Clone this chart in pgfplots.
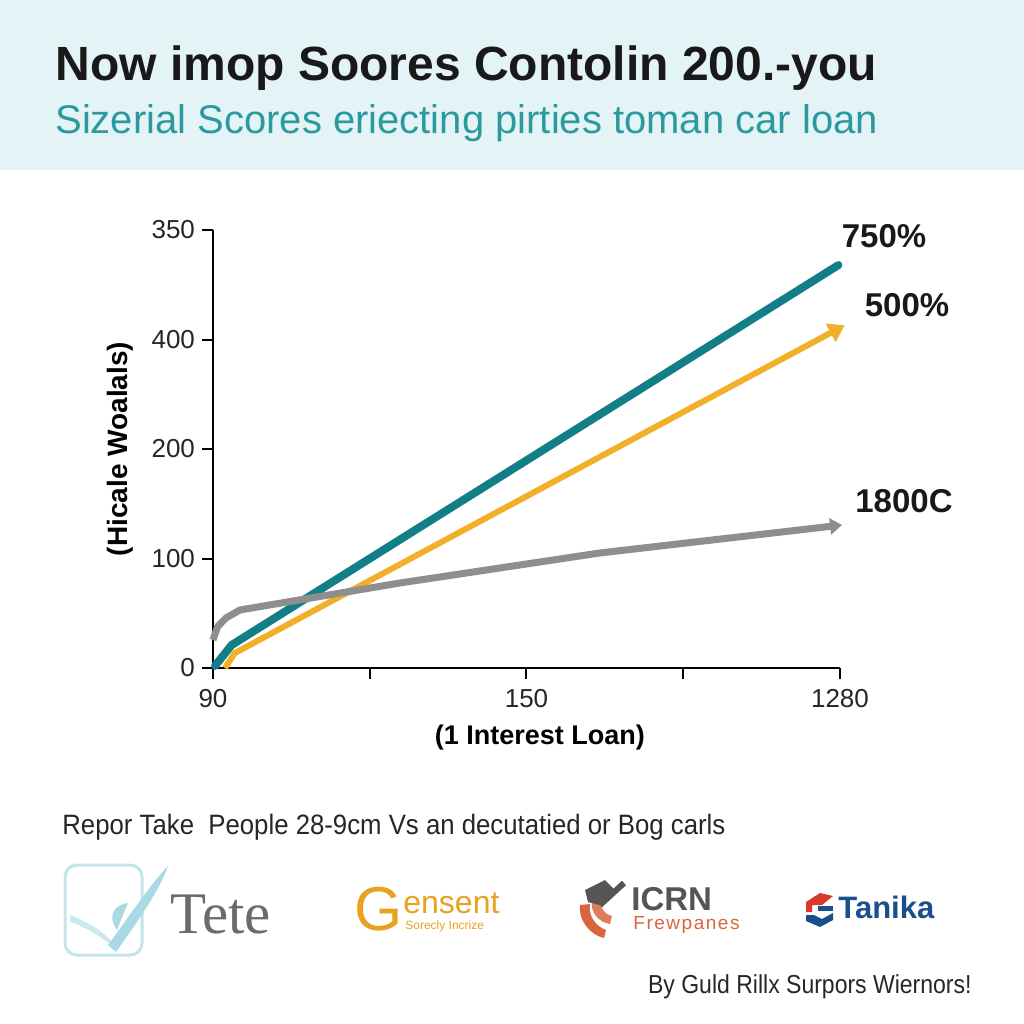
\documentclass[border=0pt]{standalone}
\usepackage{pgfplots}
\pgfplotsset{compat=1.18}
\usepackage{fontspec}
\setmainfont{Liberation Sans}
\newfontfamily\seriffont{Liberation Serif}
\usetikzlibrary{arrows.meta}
\definecolor{hdr}{HTML}{E4F3F6}
\definecolor{tealc}{HTML}{127E87}
\definecolor{orangec}{HTML}{F2B02A}
\definecolor{grayc}{HTML}{8E8E8E}
\definecolor{subteal}{HTML}{2A9A9E}
\definecolor{logoblue}{HTML}{A9D9E3}
\definecolor{logoline}{HTML}{C4E4EA}
\definecolor{gens}{HTML}{E9A21F}
\definecolor{icrn}{HTML}{555555}
\definecolor{frew}{HTML}{D9653F}
\definecolor{tanika}{HTML}{1B4F8A}
\definecolor{tanred}{HTML}{D93A2B}
\begin{document}
\begin{tikzpicture}
\begin{scope}[x=0.5pt,y=-0.5pt]
\path[use as bounding box, fill=white] (0,0) rectangle (1024,1024);
\fill[hdr] (0,0) rectangle (1024,170);
\node[anchor=base west, inner sep=0, font=\fontsize{24}{28}\selectfont\bfseries, text=black!90] at (55,80) {Now imop Soores Contolin 200.-you};
\node[anchor=base west, inner sep=0, font=\fontsize{20}{24}\selectfont, text=subteal] at (55,133) {Sizerial Scores eriecting pirties toman car loan};
% end labels
\node[font=\bfseries\fontsize{16.5}{18}\selectfont, text=black!90] at (884,236) {750\%};
\node[font=\bfseries\fontsize{16.5}{18}\selectfont, text=black!90] at (907,305) {500\%};
\node[font=\bfseries\fontsize{16.5}{18}\selectfont, text=black!90] at (904,501) {1800C};
% footer
\node[anchor=base west, inner sep=0, font=\fontsize{14}{16}\selectfont, text=black!85] at (62,834) {\addfontfeatures{FakeStretch=0.92}Repor Take\ \ People 28-9cm Vs an decutatied or Bog carls};
\node[anchor=base east, inner sep=0, font=\fontsize{13}{15}\selectfont, text=black!85] at (972,993) {\addfontfeatures{FakeStretch=0.885}By Guld Rillx Surpors Wiernors!};
% Tete logo
\draw[logoline, line width=1.5pt, rounded corners=6pt, fill=white] (65,865) rectangle (142,955);
\fill[logoblue!60] (70,922) .. controls (95,930) and (110,945) .. (118,950) .. controls (112,938) and (95,925) .. (70,915) -- cycle;
\fill[logoblue] (108,945) .. controls (130,915) and (150,885) .. (168,866) .. controls (160,890) and (135,925) .. (116,952) -- cycle;
\fill[logoblue] (117,930) .. controls (108,918) and (112,905) .. (128,903) .. controls (124,912) and (121,920) .. (117,930) -- cycle;
\node[anchor=base west, inner sep=0, font=\seriffont\fontsize{29.5}{32}\selectfont, text=black!58] at (170,933) {Tete};
% Gensent
\node[anchor=base west, inner sep=0, text depth=0pt, font=\fontsize{31}{33}\selectfont, text=gens] at (354,930) {G};
\node[anchor=base west, inner sep=0, font=\fontsize{16}{18}\selectfont, text=gens] at (403,913) {ensent};
\node[anchor=base west, inner sep=0, font=\fontsize{6}{7}\selectfont, text=gens] at (405,929) {Sorecly Incrize};
% ICRN
\fill[frew] (580,905) .. controls (578,920) and (590,935) .. (604,938) -- (606,930) .. controls (595,926) and (588,915) .. (590,904) -- cycle;
\fill[frew!85] (592,900) .. controls (590,912) and (598,922) .. (610,924) -- (612,916) .. controls (603,914) and (600,906) .. (601,898) -- cycle;
\fill[icrn] (585,890) -- (605,880) -- (615,890) -- (600,905) -- (588,902) -- cycle;
\draw[icrn, line width=3pt] (600,905) -- (624,883);
\node[anchor=base west, inner sep=0, text depth=0pt, font=\bfseries\fontsize{16.5}{18}\selectfont, text=icrn] at (631,910) {ICRN};
\node[anchor=base west, inner sep=0, font=\fontsize{9.5}{11}\selectfont, text=frew] at (633,929) {\addfontfeatures{LetterSpace=8}Frewpanes};
% Tanika
\fill[tanred] (806,902) -- (820,893) -- (833,896) -- (822,905) -- (812,905) -- (812,912) -- (806,912) -- cycle;
\fill[tanika] (806,915) -- (814,915) -- (822,919) -- (833,913) -- (833,920) -- (820,927) -- (806,921) -- cycle;
\fill[tanika] (818,906) -- (833,906) -- (833,911) -- (818,911) -- cycle;
\node[anchor=base west, inner sep=0, font=\bfseries\fontsize{15.5}{17}\selectfont, text=tanika] at (838,918) {Tanika};
\end{scope}
\begin{axis}[
  at={(106.5pt,-334pt)}, anchor=south west,
  scale only axis, width=313.5pt, height=219pt,
  xmin=0, xmax=4, ymin=0, ymax=4,
  axis x line*=bottom, axis y line*=left,
  axis line style={line width=1pt, black, -},
  xtick={0,1,2,3,4}, xticklabels={90,,150,,1280},
  ytick={0,1,2,3,4}, yticklabels={0,100,200,400,350},
  tick align=outside, major tick length=5.5pt,
  tick style={line width=1pt, black},
  ticklabel style={font=\fontsize{13}{15}\selectfont, text=black!85},
  xticklabel style={yshift=-1.5pt},
  xlabel={(1 Interest Loan)}, ylabel={(Hicale Woalals)},
  every axis x label/.style={at={(axis description cs:0.5215,-0.1598)}, anchor=center, font=\bfseries\fontsize{13.5}{16}\selectfont},
  every axis y label/.style={at={(axis description cs:-0.1483,0.5)}, rotate=90, anchor=center, font=\bfseries\fontsize{14}{16}\selectfont},
  clip=false,
]
\addplot[orangec, line width=3pt, line join=round, -{Triangle[length=8pt,width=10pt]}] coordinates {(0.076,0) (0.14,0.137) (4.03,3.13)};
\addplot[tealc, line width=4pt, line cap=round, line join=round] coordinates {(0.013,0.02) (0.119,0.21) (3.99,3.68)};
\addplot[grayc, line width=3.5pt, line join=round, -{Triangle[length=6pt,width=8pt]}] coordinates {(0,0.256) (0.03,0.38) (0.083,0.457) (0.172,0.53) (1.19,0.776) (2.465,1.05) (4.013,1.306)};
\end{axis}
\end{tikzpicture}
\end{document}
